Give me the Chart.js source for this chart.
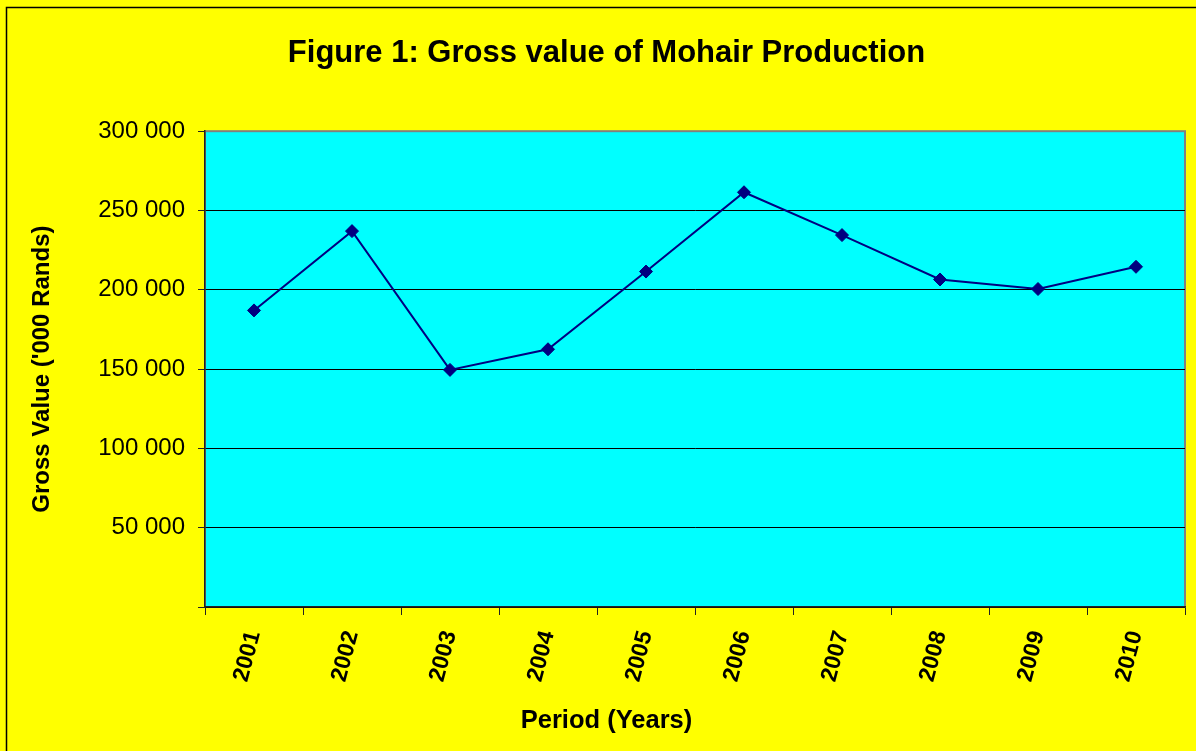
<!DOCTYPE html>
<html>
<head>
<meta charset="utf-8">
<script src="https://cdn.jsdelivr.net/npm/chart.js@4"></script>
<style>
  html, body { margin: 0; padding: 0; background: #ffff00; }
  #wrap { width: 1196px; height: 751px; }
</style>
</head>
<body>
<div id="wrap"><canvas id="ChartCanvas" width="1196" height="751"></canvas></div>
<script>
var years = ["2001", "2002", "2003", "2004", "2005", "2006", "2007", "2008", "2009", "2010"];
var grossValue = [187000, 237000, 149500, 162500, 211500, 261500, 234500, 206500, 200500, 214500];
var yTicks = [0, 50000, 100000, 150000, 200000, 250000, 300000];

var chartContext = document.getElementById("ChartCanvas").getContext("2d");

// yellow page, black frame, cyan plot area
var backgroundPlugin = {
    id: 'background',
    beforeDraw: function (chart) {
        var ctx = chart.ctx;
        var area = chart.chartArea;
        ctx.save();
        ctx.fillStyle = '#ffff00';
        ctx.fillRect(0, 0, chart.width, chart.height);
        ctx.strokeStyle = '#000';
        ctx.lineWidth = 1.5;
        ctx.strokeRect(6.5, 7.5, chart.width + 20, chart.height + 20);
        ctx.fillStyle = '#00ffff';
        ctx.fillRect(area.left, area.top, area.right - area.left, area.bottom - area.top);
        ctx.strokeStyle = '#808080';
        ctx.lineWidth = 2;
        ctx.strokeRect(area.left, area.top, area.right - area.left, area.bottom - area.top);
        ctx.restore();
    }
};

function formatThousands(value) {
    if (value === 0) return '';
    return String(value).replace(/\B(?=(\d{3})+(?!\d))/g, ' ');
}

const config = {
    type: "line",
    data: {
        labels: years,
        datasets: [{
            data: grossValue,
            borderColor: '#000080',
            backgroundColor: '#000080',
            borderWidth: 2,
            pointStyle: 'rectRot',
            pointRadius: 6.5,
            pointBorderWidth: 1,
            tension: 0
        }]
    },
    options: {
        responsive: false,
        animation: false,
        layout: {
            padding: { left: 28, right: 11, top: 0, bottom: 0 }
        },
        plugins: {
            legend: { display: false },
            tooltip: { enabled: false },
            title: {
                display: true,
                text: 'Figure 1: Gross value of Mohair Production',
                color: '#000',
                font: { family: 'Liberation Sans, Arial', size: 31, weight: 'bold' },
                padding: { top: 35, bottom: 59 }
            },
            // axis title of x sits centred on the whole chart, so it goes here
            subtitle: {
                display: true,
                position: 'bottom',
                text: 'Period (Years)',
                color: '#000',
                font: { family: 'Liberation Sans, Arial', size: 25.5, weight: 'bold' },
                padding: { top: 0, bottom: 15 }
            }
        },
        scales: {
            x: {
                offset: true,
                grid: {
                    offset: true,
                    drawOnChartArea: false,
                    tickLength: 8,
                    tickColor: '#222'
                },
                border: { color: '#222', width: 1.5 },
                ticks: {
                    color: '#000',
                    font: { family: 'Liberation Sans, Arial', size: 23, weight: 'bold' },
                    minRotation: 75,
                    maxRotation: 75,
                    padding: 13
                },
                afterFit: function (scale) { scale.height = 751 - 607 - 30.6 - 15; }
            },
            y: {
                min: 0,
                max: 300000,
                afterBuildTicks: function (scale) {
                    scale.ticks = yTicks.map(v => ({ value: v }));
                },
                grid: {
                    color: function (ctx) {
                        return ctx.tick && ctx.tick.value === 300000 ? 'rgba(0,0,0,0)' : '#000';
                    },
                    tickColor: '#222',
                    tickLength: 7
                },
                border: { color: '#222', width: 1.5 },
                ticks: {
                    color: '#000',
                    font: { family: 'Liberation Sans, Arial', size: 24 },
                    padding: 13,
                    callback: function (value) { return formatThousands(value); }
                },
                title: {
                    display: true,
                    text: "Gross Value ('000 Rands)",
                    color: '#000',
                    font: { family: 'Liberation Sans, Arial', size: 24, weight: 'bold' },
                    padding: { top: 0, bottom: 0 }
                },
                afterFit: function (scale) { scale.width = 205 - 28; }
            }
        }
    },
    plugins: [backgroundPlugin]
};

var createdChart = new Chart(chartContext, config);
</script>
</body>
</html>
